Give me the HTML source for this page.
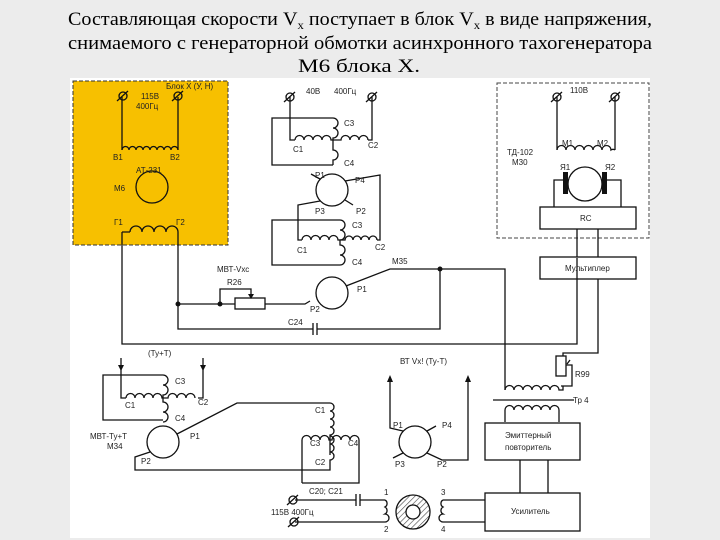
<!DOCTYPE html>
<html><head><meta charset="utf-8"><style>
html,body{margin:0;padding:0;background:#ececec;}
svg{display:block;}
text{font-family:"Liberation Sans",sans-serif;font-size:8px;fill:#222;}
.t{font-family:"Liberation Serif",serif;font-size:19px;fill:#000;}
</style></head><body>
<svg width="720" height="540" viewBox="0 0 720 540" xmlns="http://www.w3.org/2000/svg">
<defs>
<pattern id="h" width="4" height="4" patternUnits="userSpaceOnUse" patternTransform="rotate(45)"><line x1="0" y1="0" x2="0" y2="4" stroke="#444" stroke-width="1.2"/></pattern>
</defs>
<rect x="0" y="0" width="720" height="540" fill="#ececec"/>
<text class="t" x="68" y="25" textLength="584" lengthAdjust="spacingAndGlyphs">Составляющая скорости V<tspan font-size="12" dy="4">x</tspan><tspan dy="-4"> поступает в блок V</tspan><tspan font-size="12" dy="4">x</tspan><tspan dy="-4">  в виде напряжения,</tspan></text>
<text class="t" x="68" y="49" textLength="584" lengthAdjust="spacingAndGlyphs">снимаемого  с генераторной обмотки  асинхронного тахогенератора</text>
<text class="t" x="298" y="72" textLength="122" lengthAdjust="spacingAndGlyphs">М6 блока Х.</text>

<rect x="70" y="78" width="580" height="460" fill="#fff"/>
<rect x="73" y="81" width="155" height="164" fill="#f7c000" stroke="#333" stroke-dasharray="4,2" stroke-width="1"/>
<rect x="497" y="83" width="152" height="155" fill="none" stroke="#444" stroke-dasharray="4,2" stroke-width="1"/>

<g fill="none" stroke="#111" stroke-width="1.3">
<path d="M122 97V150M178 97V150"/>
<path d="M122 150a3.5 3.5 0 0 1 7 0a3.5 3.5 0 0 1 7 0a3.5 3.5 0 0 1 7 0a3.5 3.5 0 0 1 7 0a3.5 3.5 0 0 1 7 0a3.5 3.5 0 0 1 7 0a3.5 3.5 0 0 1 7 0a3.5 3.5 0 0 1 7 0"/>
<circle cx="152" cy="187" r="16"/>
<path d="M130 232a6 6 0 0 1 12 0a6 6 0 0 1 12 0a6 6 0 0 1 12 0a6 6 0 0 1 12 0"/>
<path d="M122 232h8M122 232V344H577V258"/>
<path d="M178 232V329H313M317 329H440V269"/>
<path d="M313 323v12M317 323v12"/>
<path d="M178 304H235M265 304H305l5 -3"/>
<rect x="235" y="298" width="30" height="11"/>
<path d="M220 304V289H251V297"/>
<path d="M290 97V140H295M372 97V140H368"/>
<path d="M295 140a4.5 4.5 0 0 1 9 0a4.5 4.5 0 0 1 9 0a4.5 4.5 0 0 1 9 0a4.5 4.5 0 0 1 9 0H341a4.5 4.5 0 0 1 9 0a4.5 4.5 0 0 1 9 0a4.5 4.5 0 0 1 9 0"/>
<path d="M333 118a5 5 0 0 1 0 10a5 5 0 0 1 0 10V150a5 5 0 0 1 0 10V165"/>
<path d="M333 118H272V165H333"/>
<circle cx="332" cy="190" r="16"/>
<path d="M320 179l-9 -5M345 181L380 175V240H377M320 201L298 205V240H302M345 200l8 5"/>
<path d="M302 240a4.5 4.5 0 0 1 9 0a4.5 4.5 0 0 1 9 0a4.5 4.5 0 0 1 9 0a4.5 4.5 0 0 1 9 0H345a4 4 0 0 1 8 0a4 4 0 0 1 8 0a4 4 0 0 1 8 0a4 4 0 0 1 8 0"/>
<path d="M340 220a5 5 0 0 1 0 10a5 5 0 0 1 0 10V245a5 5 0 0 1 0 10a5 5 0 0 1 0 10"/>
<path d="M340 220H272V265H340"/>
<circle cx="332" cy="293" r="16"/>
<path d="M346 286L390 269H505V390"/>
<path d="M557 97V150M615 97V150"/>
<path d="M557 150a4.5 4.5 0 0 1 9 0a4.5 4.5 0 0 1 9 0a4.5 4.5 0 0 1 9 0a4.5 4.5 0 0 1 9 0a4.5 4.5 0 0 1 9 0a4.5 4.5 0 0 1 9 0a3.5 3.5 0 0 1 4 0"/>
<circle cx="585" cy="184" r="17"/>
<path d="M567 180H554V207M603 180H621V207"/>
<rect x="540" y="207" width="96" height="22"/>
<rect x="540" y="257" width="96" height="22"/>
<path d="M577 229V257M598 229V257M598 279V353H563V356"/>
<rect x="556" y="356" width="10" height="20"/>
<path d="M570 360l-3 4M566 365h6V386H561"/>
<path d="M505 390a4.5 4.5 0 0 1 9 0a4.5 4.5 0 0 1 9 0a4.5 4.5 0 0 1 9 0a4.5 4.5 0 0 1 9 0a4.5 4.5 0 0 1 9 0a4.5 4.5 0 0 1 9 0H563V386"/>
<path d="M493 400H574"/>
<path d="M505 422V410a4.5 4.5 0 0 1 9 0a4.5 4.5 0 0 1 9 0a4.5 4.5 0 0 1 9 0a4.5 4.5 0 0 1 9 0a4.5 4.5 0 0 1 9 0a4.5 4.5 0 0 1 9 0V422"/>
<rect x="485" y="423" width="95" height="37"/>
<path d="M520 460V493M548 460V493"/>
<rect x="485" y="493" width="95" height="38"/>
<path d="M121 358V398H126M203 358V398H198"/>
<path d="M126 398a4.5 4.5 0 0 1 9 0a4.5 4.5 0 0 1 9 0a4.5 4.5 0 0 1 9 0a4.5 4.5 0 0 1 9 0H168a4.5 4.5 0 0 1 9 0a4.5 4.5 0 0 1 9 0a4.5 4.5 0 0 1 9 0"/>
<path d="M163 375a5 5 0 0 1 0 10a5 5 0 0 1 0 10V402a5 5 0 0 1 0 10a5 5 0 0 1 0 10"/>
<path d="M163 375H103V420H163"/>
<circle cx="163" cy="442" r="16"/>
<path d="M177 434L237 403H330a4 4 0 0 1 0 8a4 4 0 0 1 0 8a4 4 0 0 1 0 8a4 4 0 0 1 0 8V455"/>
<path d="M330 436a4 4 0 0 1 0 8a4 4 0 0 1 0 8a4 4 0 0 1 0 8V470H135V457L150 452"/>
<path d="M302 483V440a4.5 4.5 0 0 1 9 0a4.5 4.5 0 0 1 9 0a4.5 4.5 0 0 1 9 0H332a4.5 4.5 0 0 1 9 0a4.5 4.5 0 0 1 9 0a4.5 4.5 0 0 1 9 0V483H302"/>
<path d="M295 500H356M360 500H385"/>
<path d="M356 494v12M360 494v12"/>
<path d="M385 500a4 4 0 0 1 0 7a4 4 0 0 1 0 7a4 4 0 0 1 0 8H295"/>
<circle cx="413" cy="512" r="17" fill="url(#h)"/>
<circle cx="413" cy="512" r="7" fill="#fff"/>
<path d="M443 500a4 4 0 0 0 0 7a4 4 0 0 0 0 7a4 4 0 0 0 0 8M443 500H485M443 522H485"/>
<circle cx="415" cy="442" r="16"/>
<path d="M403 431L390 428V382M427 453L442 460H468V382M403 453l-10 5M427 431l9 -5"/>
</g>
<g fill="#111">
<rect x="563" y="172" width="5" height="22"/><rect x="602" y="172" width="5" height="22"/>
<circle cx="178" cy="304" r="2.5"/><circle cx="220" cy="304" r="2.5"/><circle cx="440" cy="269" r="2.5"/>
<path d="M248 294h6l-3 5z"/>
<path d="M118 365h6l-3 6zM200 365h6l-3 6zM387 382h6l-3 -7zM465 382h6l-3 -7z"/>
</g>
<g fill="none" stroke="#111" stroke-width="1.3">
<circle cx="123" cy="96" r="4"/><path d="M117 101l11 -10"/>
<circle cx="178" cy="96" r="4"/><path d="M172 101l11 -10"/>
<circle cx="290" cy="97" r="4"/><path d="M284 102l11 -10"/>
<circle cx="372" cy="97" r="4"/><path d="M366 102l11 -10"/>
<circle cx="557" cy="97" r="4"/><path d="M551 102l11 -10"/>
<circle cx="615" cy="97" r="4"/><path d="M609 102l11 -10"/>
<circle cx="293" cy="500" r="4"/><path d="M287 505l11 -10"/>
<circle cx="294" cy="522" r="4"/><path d="M288 527l11 -10"/>
</g>
<g>
<text x="166" y="89">Блок X (У, Н)</text>
<text x="141" y="99">115В</text><text x="136" y="109">400Гц</text>
<text x="113" y="160">В1</text><text x="170" y="160">В2</text>
<text x="136" y="173">АТ-231</text><text x="114" y="191">М6</text>
<text x="114" y="225">Г1</text><text x="176" y="225">Г2</text>
<text x="306" y="94">40В</text><text x="334" y="94">400Гц</text>
<text x="344" y="126">С3</text><text x="293" y="152">С1</text><text x="368" y="148">С2</text><text x="344" y="166">С4</text>
<text x="315" y="178">Р1</text><text x="355" y="183">Р4</text><text x="315" y="214">Р3</text><text x="356" y="214">Р2</text>
<text x="352" y="228">С3</text><text x="297" y="253">С1</text><text x="375" y="250">С2</text><text x="352" y="265">С4</text>
<text x="392" y="264">М35</text><text x="357" y="292">Р1</text><text x="310" y="312">Р2</text>
<text x="217" y="272">МВТ-Vхс</text><text x="227" y="285">R26</text><text x="288" y="325">С24</text>
<text x="570" y="93">110В</text><text x="562" y="146">М1</text><text x="597" y="146">М2</text>
<text x="507" y="155">ТД-102</text><text x="512" y="165">М30</text>
<text x="560" y="170">Я1</text><text x="605" y="170">Я2</text>
<text x="580" y="221" font-size="7">RC</text><text x="565" y="271" font-size="7">Мультиплер</text>
<text x="575" y="377">R99</text><text x="573" y="403">Тр 4</text>
<text x="505" y="438" font-size="7">Эмиттерный</text><text x="505" y="450" font-size="7">повторитель</text>
<text x="511" y="514" font-size="7">Усилитель</text>
<text x="148" y="356">(Ту+Т)</text>
<text x="175" y="384">С3</text><text x="125" y="408">С1</text><text x="198" y="405">С2</text><text x="175" y="421">С4</text>
<text x="90" y="439">МВТ-Ту+Т</text><text x="107" y="449">М34</text>
<text x="190" y="439">Р1</text><text x="141" y="464">Р2</text>
<text x="315" y="413">С1</text><text x="310" y="446">С3</text><text x="348" y="446">С4</text><text x="315" y="465">С2</text>
<text x="309" y="494">С20; С21</text><text x="271" y="515">115В  400Гц</text>
<text x="384" y="495">1</text><text x="384" y="532">2</text><text x="441" y="495">3</text><text x="441" y="532">4</text>
<text x="400" y="364">ВТ Vx! (Ту-Т)</text>
<text x="393" y="428">Р1</text><text x="442" y="428">Р4</text><text x="395" y="467">Р3</text><text x="437" y="467">Р2</text>
</g>
</svg>
</body></html>
